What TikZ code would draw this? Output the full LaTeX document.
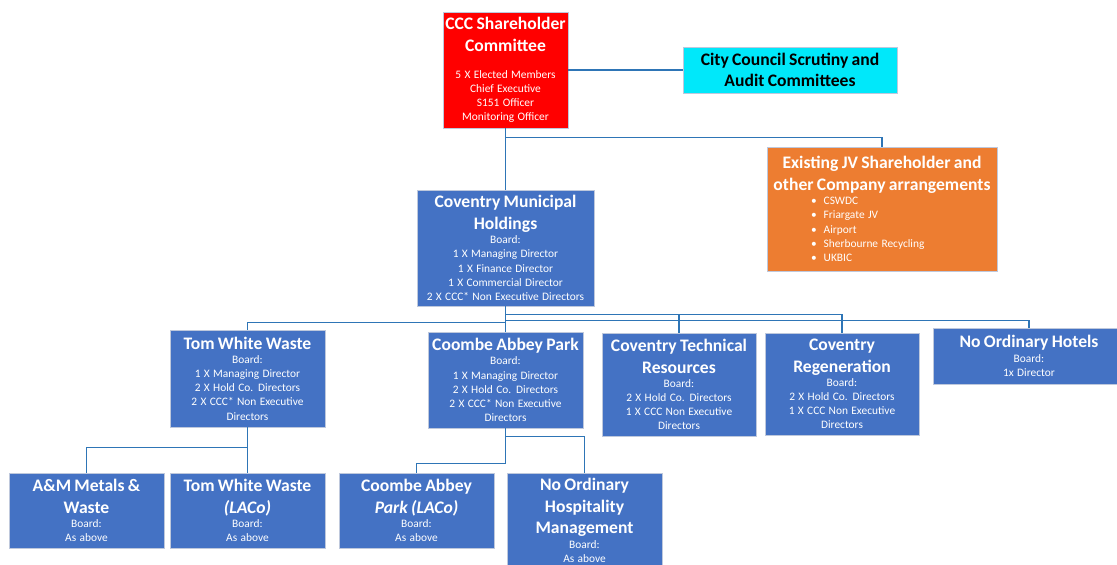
\documentclass[tikz,border=0pt]{standalone}
\usepackage{fontspec}
\setmainfont{Carlito}
\definecolor{boxblue}{RGB}{68,114,196}
\definecolor{boxred}{RGB}{255,0,0}
\definecolor{boxcyan}{RGB}{0,232,250}
\definecolor{boxorange}{RGB}{237,125,49}
\definecolor{linkblue}{RGB}{46,117,182}
\definecolor{boxedge}{RGB}{190,200,220}
\newcommand{\boxtitle}[1]{{\fontsize{17.6}{21.6}\selectfont\bfseries #1\par}}
\newcommand{\boxtext}[1]{{\fontsize{11.4}{14.2}\selectfont #1\par}}
\tikzset{
	orgbox/.style={draw=boxedge,line width=0.8pt,rectangle,fill=boxblue,text=white,align=center,inner xsep=1pt,inner ysep=1pt},
	link/.style={draw=linkblue,line width=1.3pt},
}
\begin{document}
\begin{tikzpicture}[x=1pt,y=-1pt]
			\useasboundingbox (0,0) rectangle (1117,565);
			\clip (0,0) rectangle (1117,565);
				\node[name=ccc,orgbox,fill=boxred,text width=123pt,minimum height=116pt,inner ysep=0pt] at (505.5,70){\boxtitle{CCC Shareholder\\Committee}\vspace{13pt}\boxtext{5 X Elected Members\\Chief Executive\\S151 Officer\\Monitoring Officer}};
				\node[name=scrutiny,orgbox,fill=boxcyan,text=black,text width=212pt,minimum height=46pt] at (790,70){\boxtitle{City Council Scrutiny and\\Audit Committees}};
				\node[name=jv,orgbox,fill=boxorange,text width=228pt,minimum height=124pt] at (882,209){\boxtitle{Existing JV Shareholder and\\other Company arrangements}\boxtext{\raggedright\leftskip=43pt
					\textbullet\hspace{7pt}CSWDC\\\textbullet\hspace{7pt}Friargate JV\\\textbullet\hspace{7pt}Airport\\\textbullet\hspace{7pt}Sherbourne Recycling\\\textbullet\hspace{7pt}UKBIC}};
				\node[name=cmh,orgbox,text width=175pt,minimum height=116pt] at (505.5,248){\boxtitle{Coventry Municipal\\Holdings}\boxtext{Board:\\1 X Managing Director\\1 X Finance Director\\1 X Commercial Director\\2 X CCC* Non Executive Directors}};
				\node[name=tww,orgbox,text width=153pt,minimum height=97pt] at (247.5,378.5){\boxtitle{Tom White Waste}\boxtext{Board:\\1 X Managing Director\\2 X Hold Co. Directors\\2 X CCC* Non Executive\\Directors}};
				\node[name=cap,orgbox,text width=153pt,minimum height=96pt] at (505.5,380){\boxtitle{Coombe Abbey Park}\boxtext{Board:\\1 X Managing Director\\2 X Hold Co. Directors\\2 X CCC* Non Executive\\Directors}};
				\node[name=ctr,orgbox,text width=152pt,minimum height=103pt] at (679,384.5){\boxtitle{Coventry Technical\\Resources}\boxtext{Board:\\2 X Hold Co. Directors\\1 X CCC Non Executive\\Directors}};
				\node[name=cr,orgbox,text width=152pt,minimum height=102pt] at (842,384){\boxtitle{Coventry\\Regeneration}\boxtext{Board:\\2 X Hold Co. Directors\\1 X CCC Non Executive\\Directors}};
				\node[name=noh,orgbox,text width=190pt,minimum height=56pt] at (1029,356){\boxtitle{No Ordinary Hotels}\boxtext{Board:\\1x Director}};
				\node[name=am,orgbox,text width=153pt,minimum height=75pt] at (86.5,510.5){\boxtitle{A\&M Metals \&\\Waste}\boxtext{Board:\\As above}};
				\node[name=twl,orgbox,text width=153pt,minimum height=75pt] at (247.5,510.5){\boxtitle{Tom White Waste\\\textit{(LACo)}}\boxtext{Board:\\As above}};
				\node[name=capl,orgbox,text width=153pt,minimum height=75pt] at (416.5,510.5){\boxtitle{Coombe Abbey\\\textit{Park (LACo)}}\boxtext{Board:\\As above}};
				\node[name=nohm,orgbox,text width=153pt,minimum height=94pt,anchor=north] at (584.5,473){\boxtitle{No Ordinary\\Hospitality\\Management}\boxtext{Board:\\As above}};
				\draw[link] (ccc.east) -- (scrutiny.west);
				\draw[link] (ccc.south) -- (cmh.north);
				\draw[link] (ccc.south) -- ++(0,9) -| (jv.north);
				\draw[link] (cmh.south) -- (cap.north);
				\draw[link] (cmh.south) -- ++(0,16) -| (tww.north);
				\draw[link] (cmh.south) -- ++(0,8) -| (ctr.north);
				\draw[link] (cmh.south) -- ++(0,8) -| (cr.north);
				\draw[link] (cmh.south) -- ++(0,14) -| (noh.north);
				\draw[link] (tww.south) -- (twl.north);
				\draw[link] (tww.south) -- ++(0,20) -| (am.north);
				\draw[link] (cap.south) -- ++(0,35) -| (capl.north);
				\draw[link] (cap.south) -- ++(0,8) -| (nohm.north);
\end{tikzpicture}
\end{document}
